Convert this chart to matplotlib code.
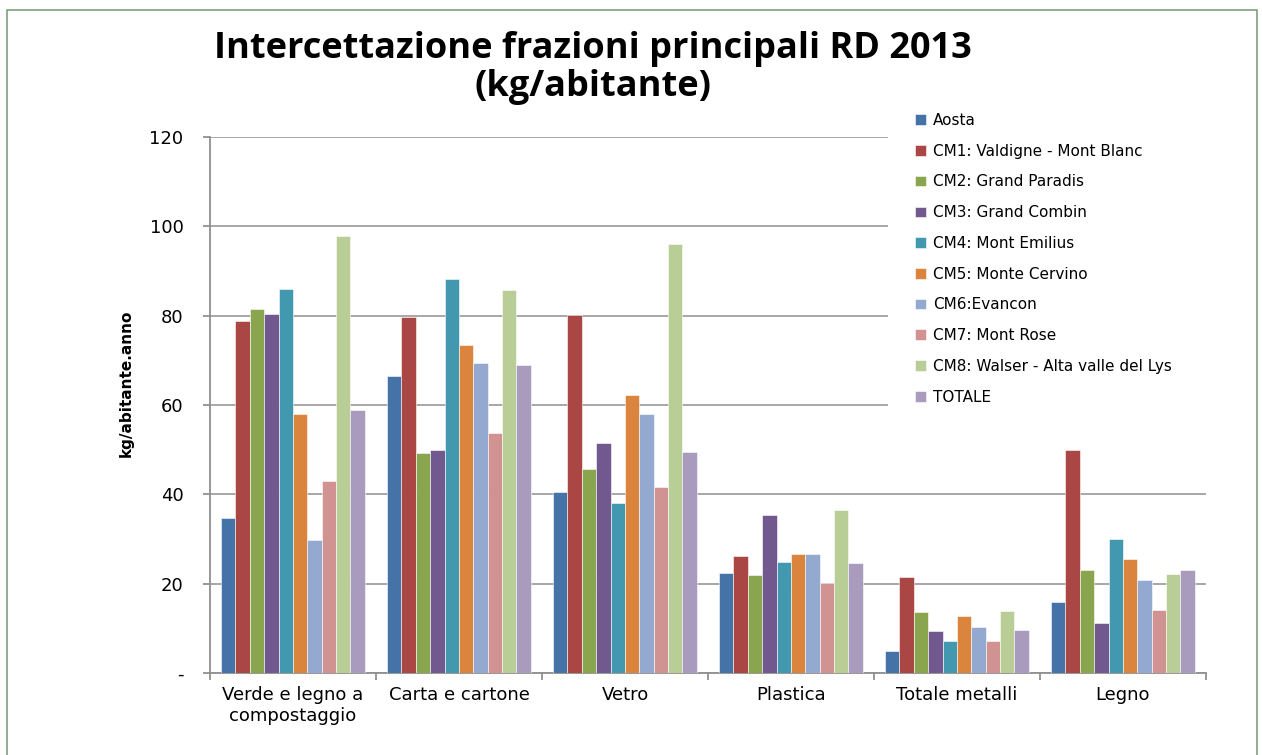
import numpy as np
import matplotlib
matplotlib.use('Agg')
import matplotlib.pyplot as plt
from matplotlib.patches import Rectangle

categories = ['Verde e legno a\ncompostaggio', 'Carta e cartone', 'Vetro',
              'Plastica', 'Totale metalli', 'Legno']
series = ['Aosta', 'CM1: Valdigne - Mont Blanc', 'CM2: Grand Paradis',
          'CM3: Grand Combin', 'CM4: Mont Emilius', 'CM5: Monte Cervino',
          'CM6:Evancon', 'CM7: Mont Rose', 'CM8: Walser - Alta valle del Lys',
          'TOTALE']

aosta  = [34.7, 66.4, 40.5, 22.4, 5.0, 15.8]
cm1    = [78.8, 79.6, 80.1, 26.3, 21.4, 50.0]
cm2    = [81.6, 49.3, 45.6, 22.0, 13.6, 23.1]
cm3    = [80.4, 49.9, 51.6, 35.3, 9.4, 11.3]
cm4    = [86.0, 88.2, 38.0, 24.8, 7.2, 30.0]
cm5    = [57.9, 73.4, 62.2, 26.6, 12.8, 25.6]
cm6    = [29.7, 69.5, 57.9, 26.6, 10.3, 20.8]
cm7    = [42.9, 53.7, 41.6, 20.1, 7.2, 14.1]
cm8    = [97.8, 85.7, 96.0, 36.6, 13.9, 22.2]
totale = [58.8, 68.9, 49.4, 24.6, 9.6, 23.1]
values = [aosta, cm1, cm2, cm3, cm4, cm5, cm6, cm7, cm8, totale]

colors = ['#4572A7', '#AA4643', '#89A54E', '#71588F', '#4198AF',
          '#DB843D', '#93A9CF', '#D19392', '#B9CD96', '#A99BBD']

fig = plt.figure(figsize=(12.62, 7.55), dpi=100)
ax = fig.add_axes([0.1664, 0.1086, 0.7892, 0.7099])

x = np.arange(len(categories))
w = 0.0866
for i, (name, vals) in enumerate(zip(series, values)):
    ax.bar(x - 4.5 * w + i * w, vals, w, color=colors[i], label=name,
           edgecolor='white', linewidth=0.4, zorder=3)

ax.set_xlim(-0.5, len(categories) - 0.5)
ax.set_ylim(0, 120)
ax.set_yticks(range(0, 121, 20))
ax.set_yticklabels(['-'] + [str(v) for v in range(20, 121, 20)], fontsize=13)
ax.yaxis.grid(color='#a0a0a0', linewidth=1.3, zorder=0)
ax.set_axisbelow(True)

ax.set_xticks(x)
ax.set_xticklabels(categories, fontsize=13)
ax.get_xticklabels()[0].set_linespacing(1.25)
ax.tick_params(axis='x', length=0, pad=9)
ax.set_xticks(np.arange(-0.5, len(categories)), minor=True)
ax.tick_params(axis='x', which='minor', length=5, color='#909090', width=1.3)
ax.tick_params(axis='y', length=5, color='#909090', width=1.3, pad=14)

for s in ['top', 'right']:
    ax.spines[s].set_visible(False)
for s in ['left', 'bottom']:
    ax.spines[s].set_color('#909090')
    ax.spines[s].set_linewidth(1.3)

ax.set_ylabel('kg/abitante.anno', fontsize=11, fontweight='bold',
              family=['Liberation Sans Narrow', 'DejaVu Sans'])
ax.yaxis.set_label_coords(-0.077, 0.54)

fig.text(0.47, 0.91, 'Intercettazione frazioni principali RD 2013\n(kg/abitante)',
         ha='center', va='center', fontsize=26, fontweight='bold',
         linespacing=1.05, family=['Open Sans', 'DejaVu Sans'])

# white area behind the legend hides the gridlines, as in the original
ax.add_patch(Rectangle((888 / 1262, 1 - 412 / 755), 325 / 1262, 312 / 755,
                       transform=fig.transFigure, facecolor='white',
                       edgecolor='none', zorder=1, clip_on=False))

leg = ax.legend(loc='upper left', bbox_to_anchor=(915 / 1262, 1 - 113 / 755),
                bbox_transform=fig.transFigure, frameon=False, fontsize=11,
                handlelength=0.7, handleheight=0.7, handletextpad=0.5,
                labelspacing=1.03, borderaxespad=0, borderpad=0)
leg.set_zorder(5)

fig.patches.append(Rectangle((7 / 1262, -0.02), 1250 / 1262, 1.02 - 10 / 755,
                             transform=fig.transFigure, fill=False,
                             edgecolor='#7f9f7f', linewidth=1.2))

plt.savefig('out.png', dpi=100)
